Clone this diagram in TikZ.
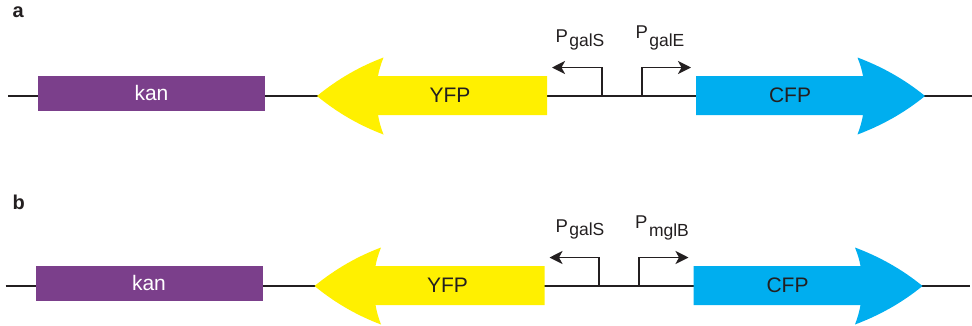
\documentclass[tikz,border=0pt]{standalone}
\usepackage{fontspec}
\setmainfont{Liberation Sans}
\usetikzlibrary{arrows.meta}
\definecolor{kanpurple}{RGB}{123,63,139}
\definecolor{yfpyellow}{RGB}{255,240,0}
\definecolor{cfpcyan}{RGB}{0,174,239}
\definecolor{ink}{RGB}{35,31,32}

% one construct: backbone, kan box, YFP and CFP arrows, two promoters
\newcommand{\construct}[1]{%
  \coordinate (#1L) at (8,96);
  \coordinate (#1R) at (972,96);
  \draw[backbone] (#1L) -- (#1R);
  % kan resistance gene
  \fill[kanpurple] (38,76) rectangle (265,111);
  \node[genetext, text=white] (#1kan) at (151.5,92.5) {kan};
  % YFP, pointing left
  \fill[yfpyellow] (547,76) -- (378,76)
     .. controls (379,70) and (381,64) .. (383.5,57.5)
     .. controls (361,66) and (339,78) .. (317,96)
     .. controls (339,114) and (361,126) .. (383.5,134.5)
     .. controls (381,128) and (379,121) .. (378,115)
     -- (547,115) -- cycle;
  \node[genetext, text=ink] (#1yfp) at (450,95) {YFP};
  % CFP, pointing right
  \fill[cfpcyan] (696,76) -- (863,76)
     .. controls (862,70) and (860,64) .. (857.5,57.5)
     .. controls (880,66) and (903,78) .. (925,96)
     .. controls (903,114) and (880,126) .. (857.5,134.5)
     .. controls (860,128) and (862,121) .. (863,115)
     -- (696,115) -- cycle;
  \node[genetext, text=ink] (#1cfp) at (790,95) {CFP};
  % divergent promoters
  \coordinate (#1sBase) at (601.7,96);
  \coordinate (#1sTip) at (552,67.5);
  \coordinate (#1eBase) at (641.7,96);
  \coordinate (#1eTip) at (691,67.5);
  \draw[promoter] (#1sBase) |- (#1sTip);
  \draw[promoter] (#1eBase) |- (#1eTip);
}

% promoter name: P with a lowered subscript
\newcommand{\promname}[2]{P\hspace{1.5pt}\raisebox{#1}{\fontsize{17.5}{17.5}\selectfont #2}}

\begin{document}
\begin{tikzpicture}[x=1pt,y=-1pt,
  backbone/.style={draw=ink, line width=1.8pt},
  promoter/.style={draw=ink, line width=1.8pt,
    -{Stealth[length=13pt,width=13pt,inset=3.5pt]}},
  genetext/.style={font=\fontsize{21}{21}\selectfont, inner sep=0pt},
  promtext/.style={font=\fontsize{18.5}{18.5}\selectfont, text=ink,
    inner sep=0pt, anchor=base west},
  paneltext/.style={font=\fontsize{20}{20}\selectfont\bfseries, text=ink,
    inner sep=0pt, anchor=base west},
]
\useasboundingbox (0,0) rectangle (972,325);

\begin{scope}
  \construct{a}
\end{scope}
\begin{scope}[shift={(-2.5,190)}]
  \construct{b}
\end{scope}

% panel letters
\node[paneltext] (pa) at (12.5,17) {a};
\node[paneltext] (pb) at (12.5,209) {b};

% promoter names
\node[promtext] (pgalSa) at (555.3,42.2) {\promname{-3.8pt}{galS}};
\node[promtext] (pgalEa) at (635.3,38.3) {\promname{-7.7pt}{galE}};
\node[promtext] (pgalSb) at (555.3,232.5) {\promname{-3.2pt}{galS}};
\node[promtext] (pmglBb) at (635,228.3) {\promname{-7.7pt}{mglB}};
\end{tikzpicture}
\end{document}
